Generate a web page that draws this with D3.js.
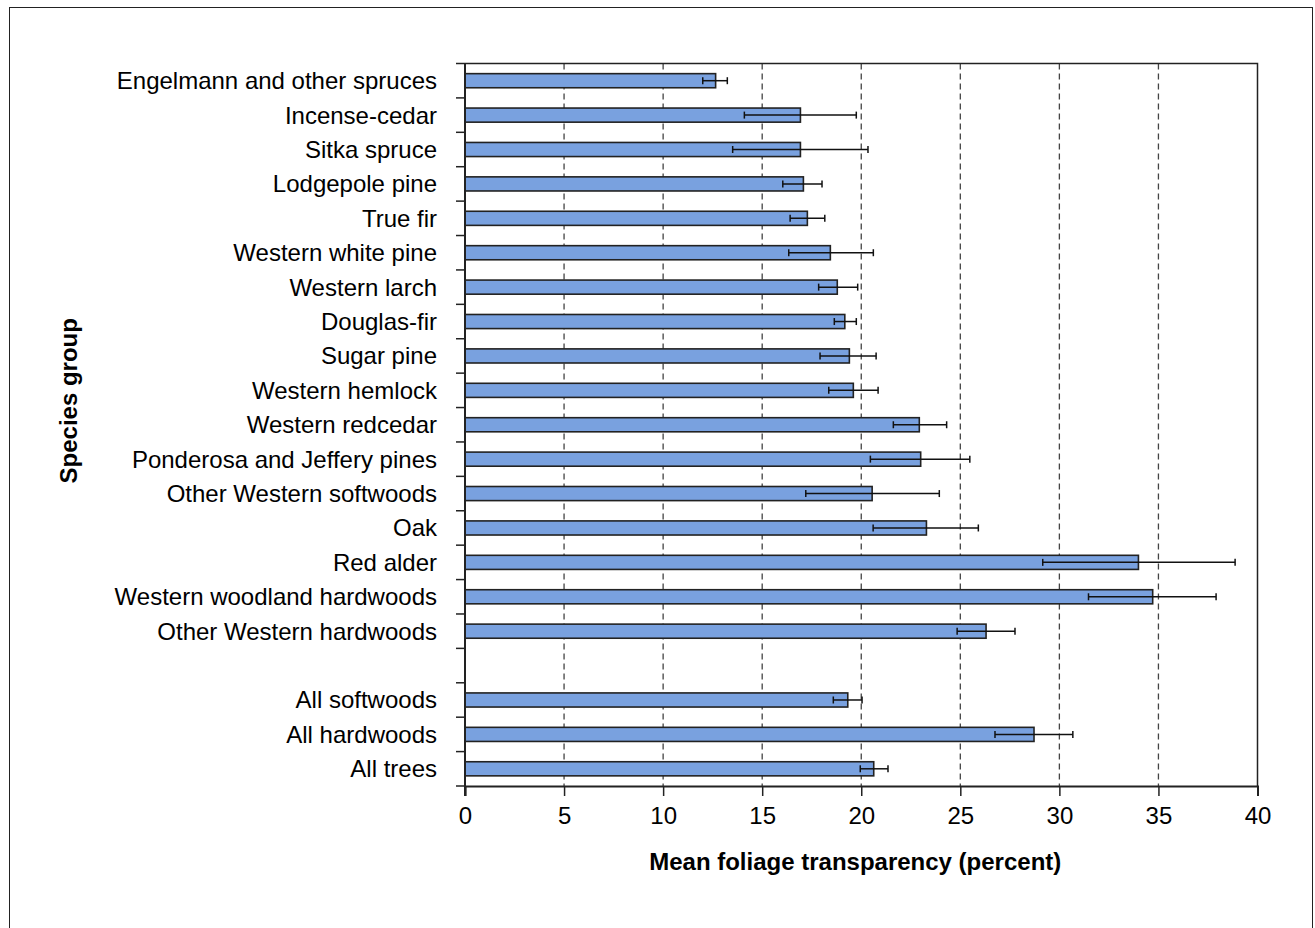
<!DOCTYPE html>
<html>
<head>
<meta charset="utf-8">
<script src="https://cdn.jsdelivr.net/npm/d3@7"></script>
<style>
  body { margin: 0; background: #fff; }
  text { font-family: "Liberation Sans", Arial, sans-serif; fill: #000; }
</style>
</head>
<body>
<div id="chart"></div>
<script>
// Species groups, top to bottom ("" is the blank spacer row)
const species = [
    "Engelmann and other spruces", "Incense-cedar", "Sitka spruce", "Lodgepole pine",
    "True fir", "Western white pine", "Western larch", "Douglas-fir", "Sugar pine",
    "Western hemlock", "Western redcedar", "Ponderosa and Jeffery pines",
    "Other Western softwoods", "Oak", "Red alder", "Western woodland hardwoods",
    "Other Western hardwoods", "", "All softwoods", "All hardwoods", "All trees"
];

// Mean foliage transparency (percent)
const meanValues = [
    12.65, 16.93, 16.93, 17.08, 17.28, 18.44, 18.79, 19.17, 19.40, 19.60,
    22.93, 23.00, 20.55, 23.29, 33.99, 34.71, 26.30, null, 19.32, 28.72, 20.63
];

// Error bar lower / upper bounds
const lowerValues = [
    12.00, 14.10, 13.51, 16.04, 16.41, 16.34, 17.85, 18.64, 17.92, 18.36,
    21.62, 20.46, 17.20, 20.60, 29.16, 31.47, 24.84, null, 18.59, 26.75, 19.95
];
const upperValues = [
    13.24, 19.75, 20.34, 18.02, 18.16, 20.61, 19.82, 19.75, 20.75, 20.85,
    24.31, 25.48, 23.94, 25.91, 38.87, 37.91, 27.76, null, 20.04, 30.68, 21.35
];

const xTicks = [0, 5, 10, 15, 20, 25, 30, 35, 40];

const data = species.map((s, i) => ({
    name: s, key: "r" + i, value: meanValues[i], lo: lowerValues[i], hi: upperValues[i]
}));

const W = 1315, H = 928;
const margin = {top: 63.5, right: 57.5, bottom: 142, left: 465};
const width = W - margin.left - margin.right;
const height = H - margin.top - margin.bottom;
const fontSize = "24px";

const root = d3.select("#chart").append("svg")
    .attr("width", W)
    .attr("height", H);

// outer frame
root.append("rect")
    .attr("x", 9.5).attr("y", 7.5)
    .attr("width", 1303).attr("height", 960)
    .attr("fill", "none")
    .attr("stroke", "#222")
    .attr("stroke-width", 1);

const svg = root.append("g")
    .attr("transform", `translate(${margin.left},${margin.top})`);

const x = d3.scaleLinear().domain([0, 40]).range([0, width]);
const y = d3.scaleBand().domain(data.map(d => d.key)).range([0, height]).padding(0);

// dashed grid lines
svg.append("g")
    .selectAll("line")
    .data(xTicks.slice(1, -1))
    .join("line")
    .attr("x1", d => x(d)).attr("x2", d => x(d))
    .attr("y1", 0).attr("y2", height)
    .attr("stroke", "#444")
    .attr("stroke-width", 1.3)
    .attr("stroke-dasharray", "6,4");

// bars
const barH = y.bandwidth() * 0.41;
const rows = data.filter(d => d.value != null);

svg.append("g")
    .selectAll("rect")
    .data(rows)
    .join("rect")
    .attr("x", x(0))
    .attr("y", d => y(d.key) + (y.bandwidth() - barH) / 2)
    .attr("width", d => x(d.value))
    .attr("height", barH)
    .attr("fill", "#79a1df")
    .attr("stroke", "#222")
    .attr("stroke-width", 1.6);

// error bars
const err = svg.append("g")
    .attr("stroke", "#111")
    .attr("stroke-width", 1.5);

err.selectAll(".err-line")
    .data(rows)
    .join("line")
    .attr("class", "err-line")
    .attr("x1", d => x(d.lo)).attr("x2", d => x(d.hi))
    .attr("y1", d => y(d.key) + y.bandwidth() / 2)
    .attr("y2", d => y(d.key) + y.bandwidth() / 2);

["lo", "hi"].forEach(k => {
    err.selectAll(".cap-" + k)
        .data(rows)
        .join("line")
        .attr("class", "cap-" + k)
        .attr("x1", d => x(d[k])).attr("x2", d => x(d[k]))
        .attr("y1", d => y(d.key) + y.bandwidth() / 2 - 3.5)
        .attr("y2", d => y(d.key) + y.bandwidth() / 2 + 3.5);
});

// frame top and right
svg.append("path")
    .attr("d", `M0,0H${width}V${height}`)
    .attr("fill", "none")
    .attr("stroke", "#222")
    .attr("stroke-width", 1.5);

// X axis
const xAxis = svg.append("g")
    .attr("transform", `translate(0,${height})`)
    .call(d3.axisBottom(x).tickValues(xTicks).tickSize(10).tickPadding(11).tickFormat(d3.format("d")));
xAxis.select(".domain").attr("stroke", "#222").attr("stroke-width", 2);
xAxis.selectAll(".tick line").attr("stroke", "#222").attr("stroke-width", 1.5);
xAxis.selectAll("text")
    .style("font-family", '"Liberation Sans", Arial, sans-serif')
    .style("font-size", fontSize);

// Y axis: ticks sit on band boundaries
svg.append("g")
    .selectAll("line")
    .data(d3.range(species.length + 1))
    .join("line")
    .attr("x1", -9).attr("x2", 0)
    .attr("y1", i => i * y.step()).attr("y2", i => i * y.step())
    .attr("stroke", "#222")
    .attr("stroke-width", 1.5);

svg.append("line")
    .attr("x1", 0).attr("x2", 0)
    .attr("y1", 0).attr("y2", height + 10)
    .attr("stroke", "#222")
    .attr("stroke-width", 2);

svg.append("g")
    .selectAll("text")
    .data(data)
    .join("text")
    .attr("x", -28)
    .attr("y", d => y(d.key) + y.bandwidth() / 2)
    .attr("dy", "0.35em")
    .attr("text-anchor", "end")
    .style("font-size", fontSize)
    .text(d => d.name);

// axis titles
svg.append("text")
    .attr("x", width / 2 - 6)
    .attr("y", height + 84)
    .attr("text-anchor", "middle")
    .style("font-size", fontSize)
    .style("font-weight", "bold")
    .text("Mean foliage transparency (percent)");

svg.append("text")
    .attr("transform", "rotate(-90)")
    .attr("x", -height / 2 + 24)
    .attr("y", -margin.left + 77)
    .attr("text-anchor", "middle")
    .style("font-size", fontSize)
    .style("font-weight", "bold")
    .text("Species group");
</script>
</body>
</html>
